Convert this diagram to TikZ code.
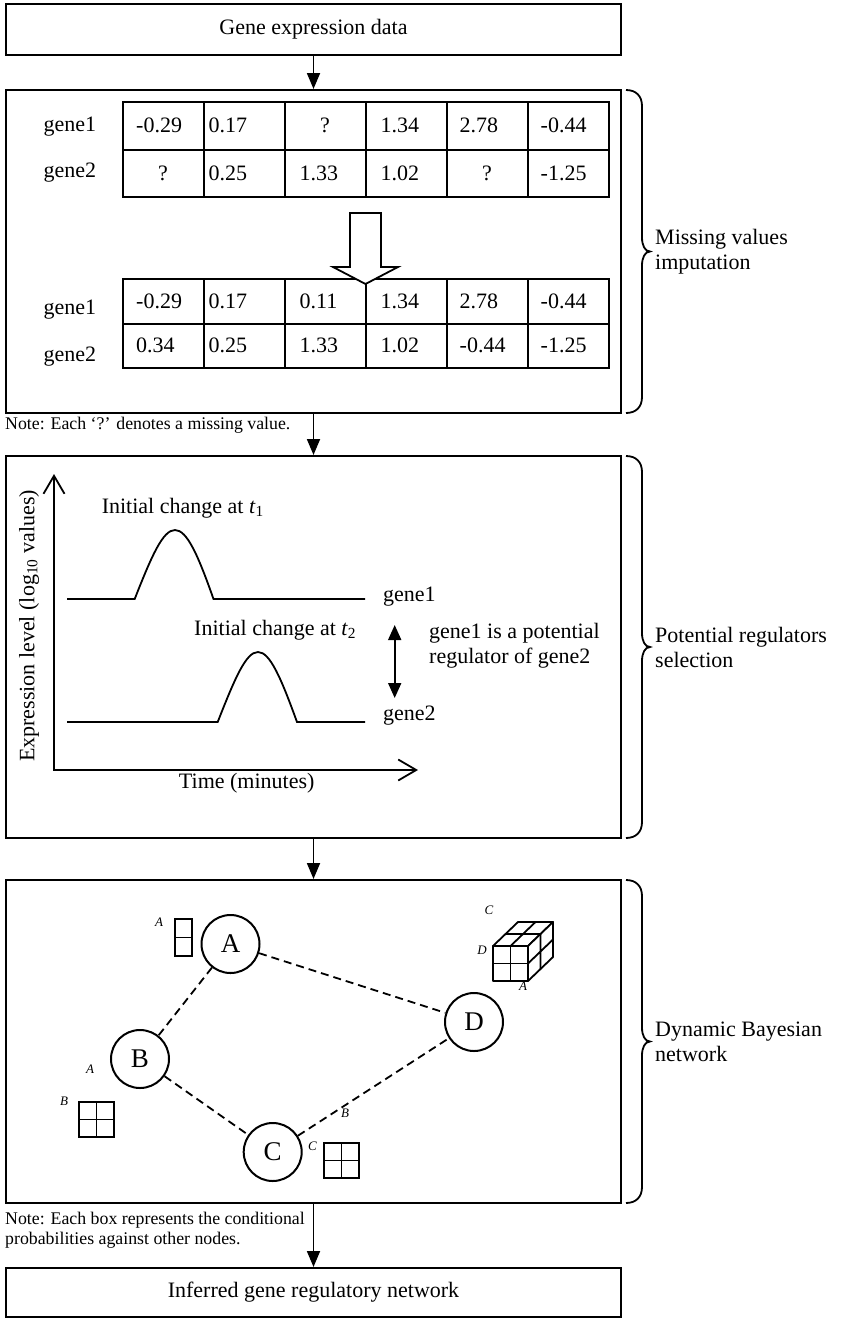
\documentclass[tikz,border=0pt]{standalone}
\usepackage{fontspec}
\setmainfont{Liberation Serif}
\usetikzlibrary{arrows.meta}
\newcommand\tcell[6]{\node[cell, minimum height=#4] (#1) at (#2,#3) {};
  \node[anchor=west, inner sep=0pt] at ([xshift=#5pt]#1.west) {#6};}
\newcommand\qcell[4]{\node[cell, minimum height=#4] (#1) at (#2,#3) {?};}
\newcommand\mybrace[3]{\draw[bracel] (626,#1) .. controls (636,#1) and (642,#1+6) .. (642,#1+16) -- (642,#2-14) .. controls (642,#2-6) and (645,#2) .. (650,#2) .. controls (645,#2) and (642,#2+6) .. (642,#2+14) -- (642,#3-16) .. controls (642,#3-6) and (636,#3) .. (626,#3);}
\begin{document}
\begin{tikzpicture}[x=1pt,y=-1pt,
  every node/.style={font=\fontsize{22}{25}\selectfont},
  mainbox/.style={draw, line width=2pt, minimum width=615pt, inner sep=0pt},
  arr/.style={line width=1.8pt, -{Triangle[length=16pt,width=13pt]}},
  cell/.style={draw, line width=2pt, minimum width=81pt, inner sep=0pt},
  bracel/.style={line width=1.8pt},
  curve/.style={line width=1.8pt},
  note/.style={font=\fontsize{17.8}{20}\selectfont, anchor=west, align=left, inner sep=0pt},
  small/.style={font=\fontsize{13}{15}\selectfont\itshape, inner sep=0pt},
  bnode/.style={circle, draw, line width=2pt, minimum size=58pt, inner sep=0pt, fill=white, font=\fontsize{27}{30}\selectfont},
  dline/.style={line width=1.8pt, dash pattern=on 8pt off 5pt},
  grid/.style={line width=1.8pt},
  lbl/.style={anchor=west, align=left, inner sep=0pt}
]
\useasboundingbox (0,0) rectangle (862,1318);

% main boxes
\node[mainbox, minimum height=51pt] (box1) at (313.5,29.5) {Gene expression data};
\node[mainbox, minimum height=323pt] (box2) at (313.5,251.5) {};
\node[mainbox, minimum height=382pt] (box3) at (313.5,647) {};
\node[mainbox, minimum height=323pt] (box4) at (313.5,1041.5) {};
\node[mainbox, minimum height=49pt] (box5) at (313.5,1292.5) {Inferred gene regulatory network};

\draw[arr] (box1) -- (box2);
\draw[arr] (box2) -- (box3);
\draw[arr] (box3) -- (box4);
\draw[arr] (box4) -- (box5);

% braces
\mybrace{90}{251.5}{413}
\mybrace{456}{647}{838}
\mybrace{880}{1041.5}{1203}
\node[lbl] (br1) at (655,251.5) {Missing values\\imputation};
\node[lbl] (br2) at (655,647) {Potential regulators\\selection};
\node[lbl] (br3) at (655,1041.5) {Dynamic Bayesian\\network};

% table 1
\node[lbl] (g1a) at (43.5,127) {gene1};
\node[lbl] (g2a) at (43.5,173) {gene2};
\tcell{a11}{163}{125.75}{47.5pt}{14.5}{-0.29}
\tcell{a12}{244}{125.75}{47.5pt}{6}{0.17}
\qcell{a13}{325}{125.75}{47.5pt}
\tcell{a14}{406}{125.75}{47.5pt}{16}{1.34}
\tcell{a15}{487}{125.75}{47.5pt}{14}{2.78}
\tcell{a16}{568}{125.75}{47.5pt}{14}{-0.44}
\qcell{a21}{163}{173.25}{47.5pt}
\tcell{a22}{244}{173.25}{47.5pt}{6}{0.25}
\tcell{a23}{325}{173.25}{47.5pt}{16}{1.33}
\tcell{a24}{406}{173.25}{47.5pt}{16}{1.02}
\qcell{a25}{487}{173.25}{47.5pt}
\tcell{a26}{568}{173.25}{47.5pt}{14}{-1.25}

% table 2
\node[lbl] (g1b) at (43.5,310) {gene1};
\node[lbl] (g2b) at (43.5,357) {gene2};
\tcell{b11}{163}{301.25}{44.5pt}{14.5}{-0.29}
\tcell{b12}{244}{301.25}{44.5pt}{6}{0.17}
\tcell{b13}{325}{301.25}{44.5pt}{16}{0.11}
\tcell{b14}{406}{301.25}{44.5pt}{16}{1.34}
\tcell{b15}{487}{301.25}{44.5pt}{14}{2.78}
\tcell{b16}{568}{301.25}{44.5pt}{14}{-0.44}
\tcell{b21}{163}{345.75}{44.5pt}{14.5}{0.34}
\tcell{b22}{244}{345.75}{44.5pt}{6}{0.25}
\tcell{b23}{325}{345.75}{44.5pt}{16}{1.33}
\tcell{b24}{406}{345.75}{44.5pt}{16}{1.02}
\tcell{b25}{487}{345.75}{44.5pt}{14}{-0.44}
\tcell{b26}{568}{345.75}{44.5pt}{14}{-1.25}

% hollow arrow
\draw[line width=1.8pt, fill=white, line join=miter] (350,213) -- (381,213) -- (381,267) -- (398,267) -- (365.5,284) -- (333,267) -- (350,267) -- cycle;

\node[note] (note1) at (5,425) {Note: Each ‘?’ denotes a missing value.};

% graph
\draw[line width=1.8pt, {Straight Barb[length=18pt,width=21pt]}-{Straight Barb[length=18pt,width=21pt]}] (54,474) -- (54,770) -- (418,770);
\node[rotate=90] (ylab) at (29,626) {Expression level (log\textsubscript{10} values)};
\node (xlab) at (246.7,783) {Time (minutes)};
\draw[curve] (67,599) -- (134.7,599) .. controls (152,555) and (163,530) .. (175,530) .. controls (187,530) and (198,555) .. (213.5,599) -- (365,599);
\draw[curve] (67,722) -- (217.7,722) .. controls (235,678) and (246,652) .. (258,652) .. controls (270,652) and (281,678) .. (297,722) -- (365,722);
\node[lbl] (gl1) at (383,597) {gene1};
\node[lbl] (gl2) at (383,716) {gene2};
\node[lbl] (ic1) at (101.6,508) {Initial change at \textit{t}\textsubscript{1}};
\node[lbl] (ic2) at (194,630) {Initial change at \textit{t}\textsubscript{2}};
\coordinate (da) at (394.7,625);
\coordinate (db) at (394.7,698);
\draw[line width=1.8pt, {Triangle[length=15pt,width=13pt]}-{Triangle[length=15pt,width=13pt]}] (da) -- (db);
\node[lbl] (pot) at (429,645.5) {gene1 is a potential\\regulator of gene2};

% DBN
\node[bnode] (A) at (230.5,944) {A};
\node[bnode] (B) at (140,1059) {B};
\node[bnode] (C) at (272.7,1152) {C};
\node[bnode] (D) at (474,1022) {D};
\draw[dline] (A) -- (B);
\draw[dline] (A) -- (D);
\draw[dline] (B) -- (C);
\draw[dline] (C) -- (D);

% A box
\draw[grid] (175,919) rectangle (192,956);
\draw[grid] (175,937.5) -- (192,937.5);
\node[small] (la) at (159,922) {A};
% B box
\draw[grid] (79,1102) rectangle (114,1137);
\draw[grid] (96.5,1102) -- (96.5,1137) (79,1119.5) -- (114,1119.5);
\node[small] (lba) at (90,1069) {A};
\node[small] (lbb) at (64,1101) {B};
% C box
\draw[grid] (324,1143) rectangle (359,1178);
\draw[grid] (341.5,1143) -- (341.5,1178) (324,1160.5) -- (359,1160.5);
\node[small] (lcb) at (345,1113) {B};
\node[small] (lcc) at (312.5,1146) {C};
% cube
\node[small] (ldc) at (489,910) {C};
\node[small] (ldd) at (482,950) {D};
\node[small] (lda) at (523,986) {A};
\draw[grid, fill=white, line join=round] (493,946) rectangle (528,981);
\draw[grid, fill=white, line join=round] (493,946) -- (518,922) -- (553,922) -- (528,946) -- cycle;
\draw[grid, fill=white, line join=round] (528,946) -- (553,922) -- (553,957) -- (528,981) -- cycle;
\draw[grid] (510.5,946) -- (510.5,981) (493,963.5) -- (528,963.5);
\draw[grid] (505.5,934) -- (540.5,934) (510.5,946) -- (535.5,922);
\draw[grid] (540.5,934) -- (540.5,969) (528,963.5) -- (553,939.5);

\node[note] (note2) at (5,1230) {Note: Each box represents the conditional\\probabilities against other nodes.};
\end{tikzpicture}
\end{document}
